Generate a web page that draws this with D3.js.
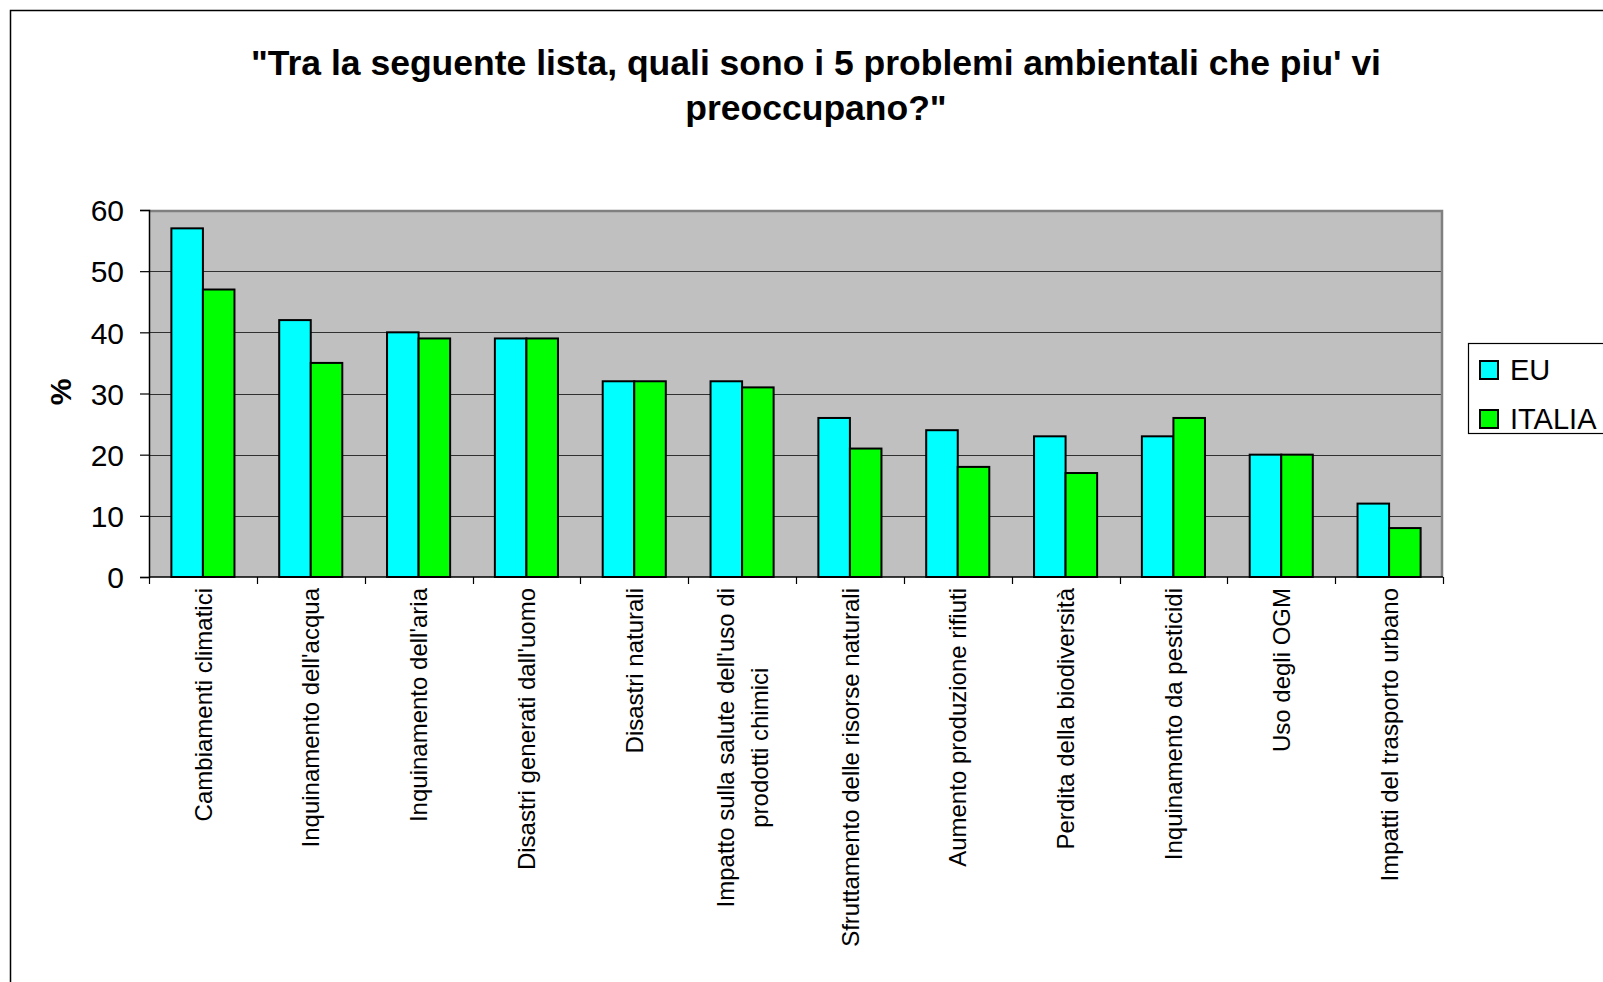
<!DOCTYPE html>
<html>
<head>
<meta charset="utf-8">
<script src="https://cdn.jsdelivr.net/npm/d3@7"></script>
<style>
    html, body {
        margin: 0;
        padding: 0;
        background: #ffffff;
        overflow: hidden;
    }
    text {
        font-family: Arial, "Liberation Sans", sans-serif;
    }
</style>
</head>
<body>
<div id="chart"></div>
<script>

    // data
    var categories = [
        "Cambiamenti climatici",
        "Inquinamento dell'acqua",
        "Inquinamento dell'aria",
        "Disastri generati dall'uomo",
        "Disastri naturali",
        "Impatto sulla salute dell'uso di\nprodotti chimici",
        "Sfruttamento delle risorse naturali",
        "Aumento produzione rifiuti",
        "Perdita della biodiversità",
        "Inquinamento da pesticidi",
        "Uso degli OGM",
        "Impatti del trasporto urbano"
    ];

    var series = ["EU", "ITALIA"];

    var euValues = [57, 42, 40, 39, 32, 32, 26, 24, 23, 23, 20, 12];

    var italiaValues = [47, 35, 39, 39, 32, 31, 21, 18, 17, 26, 20, 8];

    var yTicks = [0, 10, 20, 30, 40, 50, 60];

    var titleLines = [
        "\"Tra la seguente lista, quali sono i 5 problemi ambientali che piu' vi",
        "preoccupano?\""
    ];


    // layout
    var width = 1603;
    var height = 982;

    var plot = {
        left: 149,
        top: 210,
        right: 1443,
        bottom: 577
    };

    var colors = {
        "EU": "#00ffff",
        "ITALIA": "#00ff00"
    };

    var rows = categories.map(function(c, i) {
        return { category: c, EU: euValues[i], ITALIA: italiaValues[i] };
    });

    var svg = d3.select('#chart')
        .append('svg')
        .attr('width', width)
        .attr('height', height);

    // outer chart border (runs off the right and bottom of the picture)
    svg.append('rect')
        .attr('x', 10.5)
        .attr('y', 10.5)
        .attr('width', width + 100)
        .attr('height', height + 100)
        .attr('fill', '#ffffff')
        .attr('stroke', '#000000')
        .attr('stroke-width', 1.5);

    // title
    svg.append('g')
        .selectAll('text')
        .data(titleLines)
        .enter()
        .append('text')
        .attr('x', 816)
        .attr('y', function(d, i) { return 75 + i * 45; })
        .attr('text-anchor', 'middle')
        .attr('font-size', 35.5)
        .attr('font-weight', 'bold')
        .attr('fill', '#000000')
        .text(function(d) { return d; });

    // scales
    var x0 = d3.scaleBand()
        .domain(categories)
        .range([plot.left, plot.right])
        .paddingInner(0.415)
        .paddingOuter(0.2075);

    var x1 = d3.scaleBand()
        .domain(series)
        .range([0, x0.bandwidth()]);

    var y = d3.scaleLinear()
        .domain([0, 60])
        .range([plot.bottom, plot.top]);

    // plot area
    svg.append('rect')
        .attr('x', plot.left)
        .attr('y', plot.top)
        .attr('width', plot.right - plot.left)
        .attr('height', plot.bottom - plot.top)
        .attr('fill', '#c0c0c0');

    // gridlines
    svg.append('g')
        .selectAll('line')
        .data(yTicks.filter(function(d) { return d > 0 && d < 60; }))
        .enter()
        .append('line')
        .attr('x1', plot.left)
        .attr('x2', plot.right)
        .attr('y1', function(d) { return Math.round(y(d)) + 0.5; })
        .attr('y2', function(d) { return Math.round(y(d)) + 0.5; })
        .attr('stroke', '#303030')
        .attr('stroke-width', 1);

    // gray top and right edge of the plot area
    svg.append('path')
        .attr('d', 'M' + plot.left + ',' + (plot.top + 1) + 'H' + (plot.right - 1) + 'V' + plot.bottom)
        .attr('fill', 'none')
        .attr('stroke', '#808080')
        .attr('stroke-width', 2.5);

    // bars
    var group = svg.append('g')
        .selectAll('.cat')
        .data(rows)
        .enter()
        .append('g')
        .attr('class', 'cat')
        .attr('transform', function(d) { return 'translate(' + x0(d.category) + ',0)'; });

    group.selectAll('rect')
        .data(function(d) {
            return series.map(function(s) { return { key: s, value: d[s] }; });
        })
        .enter()
        .append('rect')
        .attr('x', function(d) { return x1(d.key); })
        .attr('y', function(d) { return y(d.value); })
        .attr('width', x1.bandwidth())
        .attr('height', function(d) { return y(0) - y(d.value); })
        .attr('fill', function(d) { return colors[d.key]; })
        .attr('stroke', '#000000')
        .attr('stroke-width', 2);

    // y axis
    var yAxis = svg.append('g')
        .attr('class', 'axis axis--y')
        .attr('transform', 'translate(' + plot.left + ',0)')
        .call(d3.axisLeft(y)
            .tickValues(yTicks)
            .tickSize(9)
            .tickPadding(16));

    yAxis.select('.domain')
        .attr('stroke', '#000000')
        .attr('stroke-width', 1.5);

    yAxis.selectAll('.tick line')
        .attr('stroke', '#000000')
        .attr('stroke-width', 1.2);

    yAxis.selectAll('.tick text')
        .attr('font-family', 'Arial, "Liberation Sans", sans-serif')
        .attr('font-size', 30)
        .attr('fill', '#000000')
        .attr('dy', '0.36em');

    // x axis: ticks sit on the category boundaries
    var step = x0.step();
    var boundaries = d3.range(categories.length + 1).map(function(i) {
        return plot.left + i * step;
    });

    svg.append('line')
        .attr('x1', plot.left)
        .attr('x2', plot.right)
        .attr('y1', plot.bottom)
        .attr('y2', plot.bottom)
        .attr('stroke', '#000000')
        .attr('stroke-width', 1.5);

    svg.append('g')
        .selectAll('line')
        .data(boundaries)
        .enter()
        .append('line')
        .attr('x1', function(d) { return Math.round(d) + 0.5; })
        .attr('x2', function(d) { return Math.round(d) + 0.5; })
        .attr('y1', plot.bottom)
        .attr('y2', plot.bottom + 7)
        .attr('stroke', '#000000')
        .attr('stroke-width', 1.2);

    // rotated category labels, each block right-aligned to the axis
    var labelTop = 588;
    var lineStep = 34;

    var labels = svg.append('g')
        .selectAll('g')
        .data(categories)
        .enter()
        .append('g')
        .attr('transform', function(d) {
            return 'translate(' + (x0(d) + x0.bandwidth() / 2) + ',' + labelTop + ') rotate(-90)';
        });

    labels.each(function(d) {
        var lines = d.split('\n');
        var g = d3.select(this);
        var texts = g.selectAll('text')
            .data(lines)
            .enter()
            .append('text')
            .attr('font-size', 24)
            .attr('fill', '#000000')
            .attr('text-anchor', 'middle')
            .attr('dy', '0.36em')
            .text(function(t) { return t; });

        var maxLen = d3.max(texts.nodes(), function(n) { return n.getComputedTextLength(); });

        texts
            .attr('x', -maxLen / 2)
            .attr('y', function(t, i) { return (i - (lines.length - 1) / 2) * lineStep; });
    });

    // y axis title
    svg.append('text')
        .attr('transform', 'translate(60,392) rotate(-90)')
        .attr('text-anchor', 'middle')
        .attr('dy', '0.36em')
        .attr('font-size', 30)
        .attr('font-weight', 'bold')
        .text('%');

    // legend
    var legend = svg.append('g')
        .attr('transform', 'translate(1468,343)');

    legend.append('rect')
        .attr('x', 0.5)
        .attr('y', 0.5)
        .attr('width', 200)
        .attr('height', 90)
        .attr('fill', '#ffffff')
        .attr('stroke', '#000000')
        .attr('stroke-width', 1.2);

    var item = legend.selectAll('.item')
        .data(series)
        .enter()
        .append('g')
        .attr('class', 'item')
        .attr('transform', function(d, i) { return 'translate(0,' + (i * 49) + ')'; });

    item.append('rect')
        .attr('x', 12)
        .attr('y', 18)
        .attr('width', 18)
        .attr('height', 18)
        .attr('fill', function(d) { return colors[d]; })
        .attr('stroke', '#000000')
        .attr('stroke-width', 2);

    item.append('text')
        .attr('x', 42)
        .attr('y', 37)
        .attr('font-size', 29)
        .attr('fill', '#000000')
        .text(function(d) { return d; });

</script>
</body>
</html>
